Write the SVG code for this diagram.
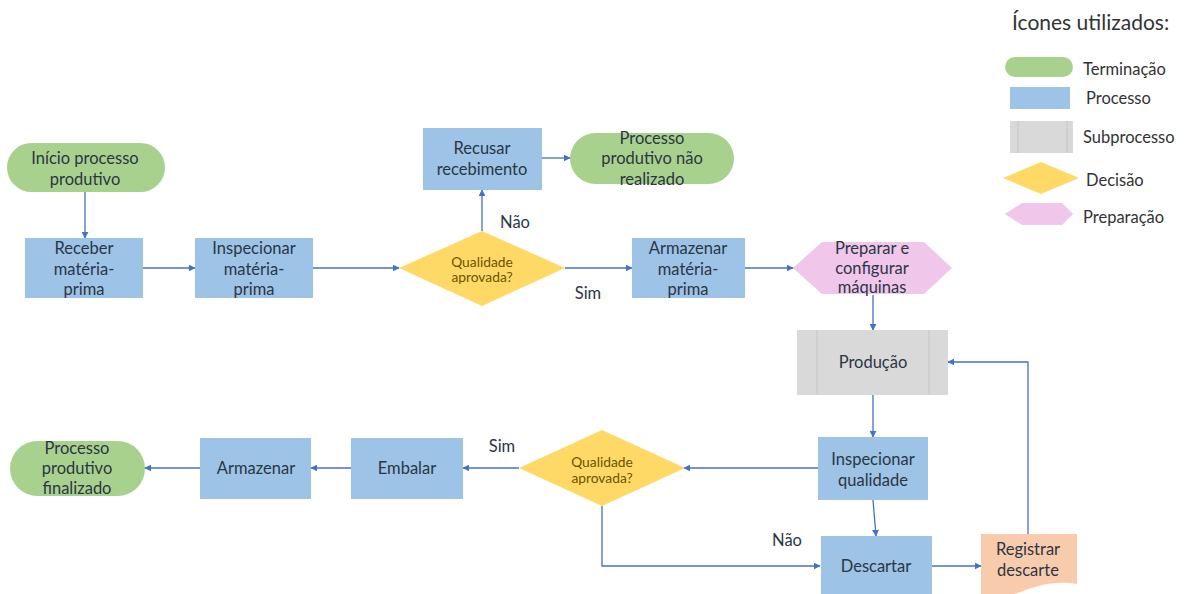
<svg xmlns="http://www.w3.org/2000/svg" width="1186" height="594" viewBox="0 0 1186 594">
<defs>
<marker id="ah" viewBox="0 0 10 10" refX="9" refY="5" markerWidth="7" markerHeight="7" markerUnits="userSpaceOnUse" orient="auto">
<path d="M0,0 L10,5 L0,10 Z" fill="#4472c4"/>
</marker>
<style>
.t{font-family:Lato,"Liberation Sans",sans-serif;font-size:16.5px;fill:#2b3644;text-anchor:middle;dominant-baseline:central}
.d{font-family:Lato,"Liberation Sans",sans-serif;font-size:13.8px;fill:#6b5200;text-anchor:middle;dominant-baseline:central}
.l{font-family:Lato,"Liberation Sans",sans-serif;font-size:16.5px;fill:#333}
.term{fill:#a9d18e}
.proc{fill:#9dc3e6}
.sub{fill:#d9d9d9}
.subl{stroke:#c4c4c4;stroke-width:1;fill:none}
.dec{fill:#ffd966}
.prep{fill:#f0c6ea}
.doc{fill:#f8cbad}
.c{fill:none;stroke:#4472c4;stroke-width:1.3}
</style>
</defs>
<rect width="1186" height="594" fill="#ffffff"/>

<g id="legend">
<text class="l" x="1012" y="30" style="font-size:21px">Ícones utilizados:</text>
<rect class="term" x="1005" y="57" width="68" height="20" rx="10"/>
<text class="l" x="1083" y="75">Terminação</text>
<rect class="proc" x="1010" y="87" width="60" height="22"/>
<text class="l" x="1086" y="104">Processo</text>
<rect class="sub" x="1010" y="121" width="63" height="32"/>
<line class="subl" x1="1018" y1="121" x2="1018" y2="153"/>
<line class="subl" x1="1067" y1="121" x2="1067" y2="153"/>
<text class="l" x="1083" y="143">Subprocesso</text>
<polygon class="dec" points="1003,178 1041,162 1079,178 1041,194"/>
<text class="l" x="1086" y="186">Decisão</text>
<polygon class="prep" points="1005,214 1022,203 1062,203 1073,214 1062,225 1022,225"/>
<text class="l" x="1083" y="223">Preparação</text>
</g>

<g id="connectors">
<line class="c" x1="85" y1="192" x2="85" y2="238" marker-end="url(#ah)"/>
<line class="c" x1="143" y1="268" x2="195" y2="268" marker-end="url(#ah)"/>
<line class="c" x1="313" y1="268" x2="399" y2="268" marker-end="url(#ah)"/>
<line class="c" x1="482" y1="231" x2="482" y2="190" marker-end="url(#ah)"/>
<line class="c" x1="542" y1="158" x2="570" y2="158" marker-end="url(#ah)"/>
<line class="c" x1="565" y1="268" x2="632" y2="268" marker-end="url(#ah)"/>
<line class="c" x1="745" y1="268" x2="793" y2="268" marker-end="url(#ah)"/>
<line class="c" x1="873" y1="295" x2="873" y2="330" marker-end="url(#ah)"/>
<line class="c" x1="873" y1="395" x2="873" y2="437" marker-end="url(#ah)"/>
<line class="c" x1="873" y1="500" x2="876" y2="536" marker-end="url(#ah)"/>
<line class="c" x1="818" y1="468" x2="684" y2="468" marker-end="url(#ah)"/>
<polyline class="c" points="602,506 602,566 820,566" marker-end="url(#ah)"/>
<line class="c" x1="932" y1="566" x2="981" y2="566" marker-end="url(#ah)"/>
<polyline class="c" points="1028,534 1028,362 948,362" marker-end="url(#ah)"/>
<line class="c" x1="519" y1="468" x2="463" y2="468" marker-end="url(#ah)"/>
<line class="c" x1="351" y1="468" x2="311" y2="468" marker-end="url(#ah)"/>
<line class="c" x1="200" y1="468" x2="145" y2="468" marker-end="url(#ah)"/>
<text class="t" x="515" y="222">Não</text>
<text class="t" x="588" y="293">Sim</text>
<text class="t" x="502" y="446">Sim</text>
<text class="t" x="787" y="540">Não</text>
</g>

<g id="inicio">
<rect class="term" x="7" y="143" width="158" height="49" rx="24.5"/>
<text class="t" x="85" y="158">Início processo</text>
<text class="t" x="85" y="179">produtivo</text>
</g>

<g id="receber">
<rect class="proc" x="25" y="238" width="118" height="60"/>
<text class="t" x="84" y="248">Receber</text>
<text class="t" x="84" y="269">matéria-</text>
<text class="t" x="84" y="289">prima</text>
</g>

<g id="inspecionar-mp">
<rect class="proc" x="195" y="238" width="118" height="60"/>
<text class="t" x="254" y="248">Inspecionar</text>
<text class="t" x="254" y="269">matéria-</text>
<text class="t" x="254" y="289">prima</text>
</g>

<g id="decisao1">
<polygon class="dec" points="399,268 482,231 565,268 482,306"/>
<text class="d" x="482" y="261">Qualidade</text>
<text class="d" x="482" y="276">aprovada?</text>
</g>

<g id="recusar">
<rect class="proc" x="423" y="128" width="119" height="62"/>
<text class="t" x="482" y="148">Recusar</text>
<text class="t" x="482" y="169">recebimento</text>
</g>

<g id="nao-realizado">
<rect class="term" x="570" y="133" width="164" height="51" rx="25.5"/>
<text class="t" x="652" y="138">Processo</text>
<text class="t" x="652" y="158">produtivo não</text>
<text class="t" x="652" y="179">realizado</text>
</g>

<g id="armazenar-mp">
<rect class="proc" x="632" y="238" width="113" height="60"/>
<text class="t" x="688" y="248">Armazenar</text>
<text class="t" x="688" y="269">matéria-</text>
<text class="t" x="688" y="289">prima</text>
</g>

<g id="preparar">
<polygon class="prep" points="793,268 822,242 924,242 952,268 924,294 822,294"/>
<text class="t" x="872" y="248">Preparar e</text>
<text class="t" x="872" y="268">configurar</text>
<text class="t" x="872" y="287">máquinas</text>
</g>

<g id="producao">
<rect class="sub" x="797" y="330" width="151" height="65"/>
<line class="subl" x1="817" y1="330" x2="817" y2="395"/>
<line class="subl" x1="929" y1="330" x2="929" y2="395"/>
<text class="t" x="873" y="362">Produção</text>
</g>

<g id="inspecionar-q">
<rect class="proc" x="818" y="437" width="110" height="63"/>
<text class="t" x="873" y="459">Inspecionar</text>
<text class="t" x="873" y="480">qualidade</text>
</g>

<g id="descartar">
<rect class="proc" x="821" y="536" width="111" height="64"/>
<text class="t" x="876" y="566">Descartar</text>
</g>

<g id="registrar">
<path class="doc" d="M981,534 H1077 V584 C1055,580 1035,586 1015,594 L981,594 Z"/>
<text class="t" x="1028" y="549">Registrar</text>
<text class="t" x="1028" y="570">descarte</text>
</g>

<g id="decisao2">
<polygon class="dec" points="519,468 602,430 685,468 602,506"/>
<text class="d" x="602" y="461">Qualidade</text>
<text class="d" x="602" y="477">aprovada?</text>
</g>

<g id="embalar">
<rect class="proc" x="351" y="438" width="112" height="61"/>
<text class="t" x="407" y="468">Embalar</text>
</g>

<g id="armazenar">
<rect class="proc" x="200" y="438" width="111" height="61"/>
<text class="t" x="256" y="468">Armazenar</text>
</g>

<g id="finalizado">
<rect class="term" x="10" y="441" width="135" height="55" rx="27.5"/>
<text class="t" x="77" y="448">Processo</text>
<text class="t" x="77" y="468">produtivo</text>
<text class="t" x="77" y="488">finalizado</text>
</g>
</svg>
